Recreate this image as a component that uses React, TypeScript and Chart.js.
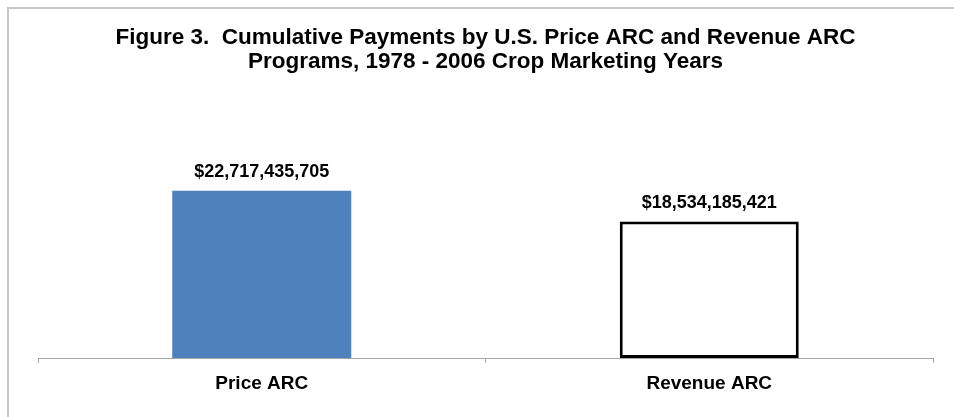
import React, { useEffect, useRef } from "react";
import { Chart, registerables } from "chart.js";

Chart.register(...registerables);

const categories = ["Price ARC", "Revenue ARC"];
const payments = [22717435705, 18534185421];
const valueLabels = ["$22,717,435,705", "$18,534,185,421"];
const titleLines = [
  "Figure 3.  Cumulative Payments by U.S. Price ARC and Revenue ARC",
  "Programs, 1978 - 2006 Crop Marketing Years",
];

const FONT = "'Liberation Sans', Arial, sans-serif";

const valueLabelPlugin = {
  id: "valueLabels",
  afterDatasetsDraw(chart: any) {
    const ctx = chart.ctx;
    const meta = chart.getDatasetMeta(0);
    ctx.save();
    ctx.font = `bold 18px ${FONT}`;
    ctx.fillStyle = "#000";
    ctx.textAlign = "center";
    ctx.textBaseline = "middle";
    meta.data.forEach((bar: any, i: number) => {
      ctx.fillText(valueLabels[i], bar.x, bar.y - 19);
    });
    ctx.restore();
  },
};

export default function App() {
  const ref = useRef<HTMLCanvasElement>(null);
  useEffect(() => {
    if (!ref.current) return;
    const chart = new Chart(ref.current, {
      type: "bar",
      data: {
        labels: categories,
        datasets: [
          {
            data: payments,
            backgroundColor: ["#4F81BD", "#FFFFFF"],
            borderColor: ["#4F81BD", "#000000"],
            borderWidth: [0, 3],
            borderSkipped: false,
            barPercentage: 0.4,
            categoryPercentage: 1,
          },
        ],
      },
      options: {
        animation: false,
        responsive: false,
        maintainAspectRatio: false,
        layout: { padding: { left: 38, right: 21, top: 0, bottom: 0 } },
        plugins: {
          legend: { display: false },
          tooltip: { enabled: false },
          title: {
            display: true,
            text: titleLines,
            color: "#000",
            font: { family: FONT, size: 22.5, weight: "bold", lineHeight: 24 / 22.5 },
            padding: { top: 26, bottom: 100 },
          },
        },
        scales: {
          y: { display: false, min: 0, max: 25000000000 },
          x: {
            display: true,
            afterFit: (scale: any) => {
              scale.height = 59;
            },
            border: { display: true, color: "#A6A6A6", width: 1 },
            grid: {
              display: true,
              drawOnChartArea: false,
              drawTicks: true,
              tickLength: 5,
              color: "#A6A6A6",
              offset: true,
            },
            ticks: {
              color: "#000",
              font: { family: FONT, size: 19, weight: "bold" },
              padding: 9,
            },
          },
        },
      },
      plugins: [valueLabelPlugin],
    });
    return () => chart.destroy();
  }, []);

  return (
    <div
      style={{
        position: "fixed",
        left: 0,
        top: 0,
        width: 954,
        height: 417,
        background: "#fff",
      }}
    >
      <div
        style={{
          position: "absolute",
          left: 7,
          top: 7,
          width: 947,
          height: 410,
          borderTop: "2px solid #C8C8C8",
          borderLeft: "2px solid #C8C8C8",
          boxSizing: "border-box",
        }}
      />
      <canvas
        ref={ref}
        width={954}
        height={417}
        style={{ position: "absolute", left: 0, top: 0, width: 954, height: 417 }}
      />
    </div>
  );
}
